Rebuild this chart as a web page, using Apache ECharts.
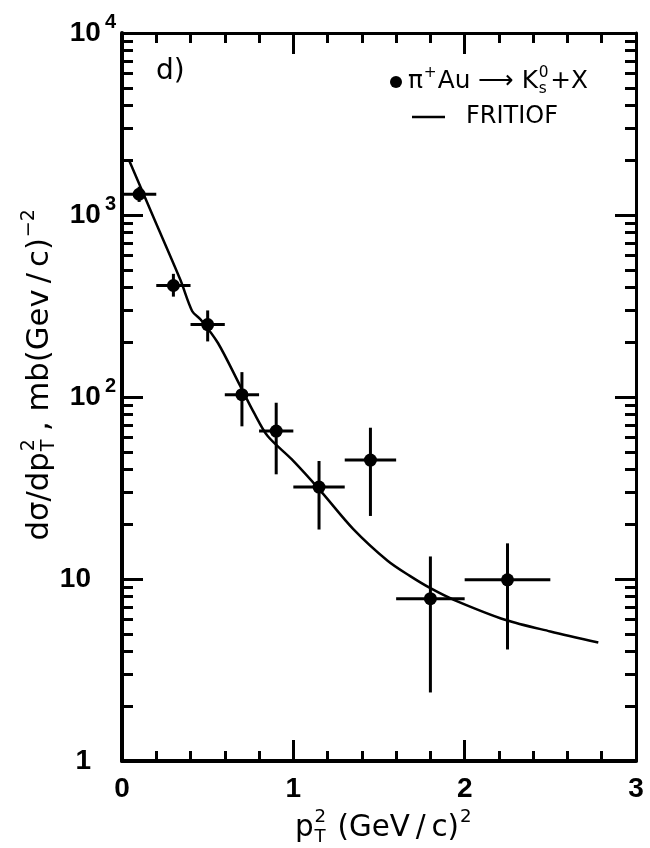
<!DOCTYPE html>
<html><head><meta charset="utf-8">
<script src="https://cdn.jsdelivr.net/npm/echarts@6/dist/echarts.min.js"></script>
<style>html,body{margin:0;padding:0;background:#fff}#c{width:650px;height:848px}</style>
</head><body><div id="c"></div>
<script>
// ---- data ----
const ptSquared   = [0.1, 0.3, 0.5, 0.7, 0.9, 1.15, 1.45, 1.8, 2.25];
const xErrLow     = [0.0, 0.2, 0.4, 0.6, 0.8, 1.0, 1.3, 1.6, 2.0];
const xErrHigh    = [0.2, 0.4, 0.6, 0.8, 1.0, 1.3, 1.6, 2.0, 2.5];
const crossSection= [1300, 410, 250, 103, 65, 32, 45, 7.8, 9.9];
const yErrLow     = [1180, 356, 202, 69, 37.6, 18.7, 22.2, 2.38, 4.1];
const yErrHigh    = [1430, 475, 299, 137, 93, 44.5, 67.8, 13.3, 15.7];

const fritiofX = [0.04, 0.19, 0.34, 0.41, 0.46, 0.56, 0.69, 0.77, 0.85, 0.99, 1.16, 1.35, 1.55, 1.68, 1.80, 1.94, 2.24, 2.5, 2.78];
const fritiofY = [2010, 942, 442, 296, 266, 198, 115, 82, 61, 45.5, 30.4, 18.8, 12.6, 10.4, 8.9, 7.66, 5.95, 5.15, 4.48];

const xTickLabels = ['0', '1', '2', '3'];
const yMajorTicks = [1, 10, 100, 1000, 10000];
const yTickBase   = ['1', '10', '10', '10', '10'];
const yTickExp    = ['', '', '2', '3', '4'];

const panelLabel = 'd)';
const legendData = 'π|+|Au |⟶| K|0|s|+X';
const legendCurve = 'FRITIOF';

// ---- helpers ----
const FONT = '"Liberation Sans", Arial, Helvetica, sans-serif';
const TFONT = '"DejaVu Sans", "Liberation Sans", sans-serif';
const mctx = document.createElement('canvas').getContext('2d');
function measure(t, size, fam) { mctx.font = 'normal ' + size + 'px ' + fam; return mctx.measureText(t).width; }
function T(text, x, y, size, fam) {
  return {type: 'text', x: x, y: y, style: {text: text, font: 'normal ' + size + 'px ' + fam, fill: '#000',
    textAlign: 'left', textVerticalAlign: 'middle', align: 'left', verticalAlign: 'middle'}};
}
function seq(pieces, size, fam) {
  const kids = []; let x = 0; const s = size * 0.62;
  pieces.forEach(p => {
    if (typeof p === 'string') { kids.push(T(p, x, 0, size, fam)); x += measure(p, size, fam); }
    else if (p.sup !== undefined && p.sub !== undefined) {
      kids.push(T(p.sup, x + size * 0.03, -size * 0.36, s, fam)); kids.push(T(p.sub, x + size * 0.03, size * 0.30, s, fam));
      x += Math.max(measure(p.sup, s, fam), measure(p.sub, s, fam)) + size * 0.1;
    } else if (p.sup !== undefined) {
      kids.push(T(p.sup, x + size * 0.03, -size * 0.36, s, fam)); x += measure(p.sup, s, fam) + size * 0.08;
    }
  });
  return {kids: kids, width: x};
}
function seqFit(pieces, target, fam) {
  const w = seq(pieces, 20, fam).width;
  return seq(pieces, 20 * target / w, fam);
}

const yMinorTicks = [];
for (let d = 1; d < 10000; d *= 10) for (let k = 2; k <= 9; k++) yMinorTicks.push(k * d);

const chart = echarts.init(document.getElementById('c'));

const grid = {left: 122, right: 14, top: 33, bottom: 87};

function xAx(pos, labels) {
  return {type: 'value', position: pos, min: 0, max: 3, interval: 1,
    axisLine: {show: true, onZero: false, lineStyle: {color: '#000', width: pos === 'bottom' ? 4 : 3}},
    axisTick: {show: true, inside: true, length: 21, lineStyle: {color: '#000', width: 3}},
    minorTick: {show: true, splitNumber: 5, length: 10, lineStyle: {color: '#000', width: 3}},
    splitLine: {show: false}, minorSplitLine: {show: false},
    axisLabel: {show: labels, margin: 14, color: '#000', fontSize: 28, fontWeight: 'bold', fontFamily: FONT,
      formatter: v => xTickLabels[Math.round(v)], showMinLabel: true, showMaxLabel: true}};
}
function yAx(pos, major, labels) {
  return {type: 'log', logBase: 10, position: pos, min: 1, max: 10000,
    axisLine: {show: major, lineStyle: {color: '#000', width: pos === 'left' ? 4 : 3}},
    axisTick: {show: true, inside: true, length: major ? 21 : 11, customValues: major ? yMajorTicks : yMinorTicks,
      lineStyle: {color: '#000', width: 3}},
    splitLine: {show: false},
    axisLabel: {show: labels, margin: 6, customValues: yMajorTicks,
      formatter: v => {
        const i = yMajorTicks.indexOf(Math.round(v));
        if (i < 0) return '';
        return '{b|' + yTickBase[i] + '}' + (yTickExp[i] ? '{s|' + yTickExp[i] + '}' : '{sp|}');
      },
      rich: {
        b: {fontSize: 28, fontWeight: 'bold', fontFamily: FONT, color: '#000', lineHeight: 42},
        s: {fontSize: 20, fontWeight: 'bold', fontFamily: FONT, color: '#000', lineHeight: 20, padding: [0, 0, 22, 4]},
        sp: {width: 25, lineHeight: 42}
      }}};
}

const errorRows = ptSquared.map((x, i) => [x, crossSection[i], xErrLow[i], xErrHigh[i], yErrLow[i], yErrHigh[i]]);
const curveRows = fritiofX.map((x, i) => [x, fritiofY[i]]);

// titles & legend
const xt = seqFit(['p', {sup: '2', sub: 'T'}, ' (GeV\u2009/\u2009c)', {sup: '2'}], 178, TFONT);
const yt = seqFit(['dσ/dp', {sup: '2', sub: 'T'}, '\u2009, mb(Gev\u2009/\u2009c)', {sup: '−2'}], 333, TFONT);
const lp = legendData.split('|');
const lg = seqFit([lp[0], {sup: lp[1]}, lp[2], lp[3], lp[4], {sup: lp[5], sub: lp[6]}, lp[7]], 180, TFONT);

const graphics = [
  {type: 'group', x: 384 - xt.width / 2, y: 828, children: xt.kids},
  {type: 'group', x: 40, y: 374 + yt.width / 2, rotation: Math.PI / 2, children: yt.kids},
  T(panelLabel, 156, 72, 28, TFONT),
  {type: 'circle', shape: {cx: 396, cy: 82, r: 6}, style: {fill: '#000'}},
  {type: 'group', x: 408, y: 82, children: lg.kids},
  {type: 'line', shape: {x1: 412, y1: 117, x2: 445, y2: 117}, style: {stroke: '#000', lineWidth: 2.5}},
  T(legendCurve, 466, 117, 24, TFONT)
];

chart.setOption({
  animation: false,
  backgroundColor: '#fff',
  grid: grid,
  xAxis: [xAx('bottom', true), xAx('top', false)],
  yAxis: [yAx('left', true, true), yAx('left', false, false), yAx('right', true, false), yAx('right', false, false)],
  graphic: graphics,
  series: [
    {type: 'line', name: legendCurve, data: curveRows, xAxisIndex: 0, yAxisIndex: 0, smooth: 0.3,
      showSymbol: false, symbol: 'none', lineStyle: {color: '#000', width: 2.5}, z: 3},
    {type: 'custom', name: 'data', data: errorRows, xAxisIndex: 0, yAxisIndex: 0, z: 4,
      encode: {x: 0, y: 1},
      renderItem: (params, api) => {
        const x = api.value(0), y = api.value(1);
        const c = api.coord([x, y]);
        const pl = api.coord([api.value(2), y]), ph = api.coord([api.value(3), y]);
        const vl = api.coord([x, api.value(4)]), vh = api.coord([x, api.value(5)]);
        return {type: 'group', children: [
          {type: 'line', shape: {x1: pl[0], y1: pl[1], x2: ph[0], y2: ph[1]}, style: {stroke: '#000', lineWidth: 3}},
          {type: 'line', shape: {x1: vl[0], y1: vl[1], x2: vh[0], y2: vh[1]}, style: {stroke: '#000', lineWidth: 3}},
          {type: 'circle', shape: {cx: c[0], cy: c[1], r: 6.5}, style: {fill: '#000'}}
        ]};
      }}
  ]
});
</script></body></html>
